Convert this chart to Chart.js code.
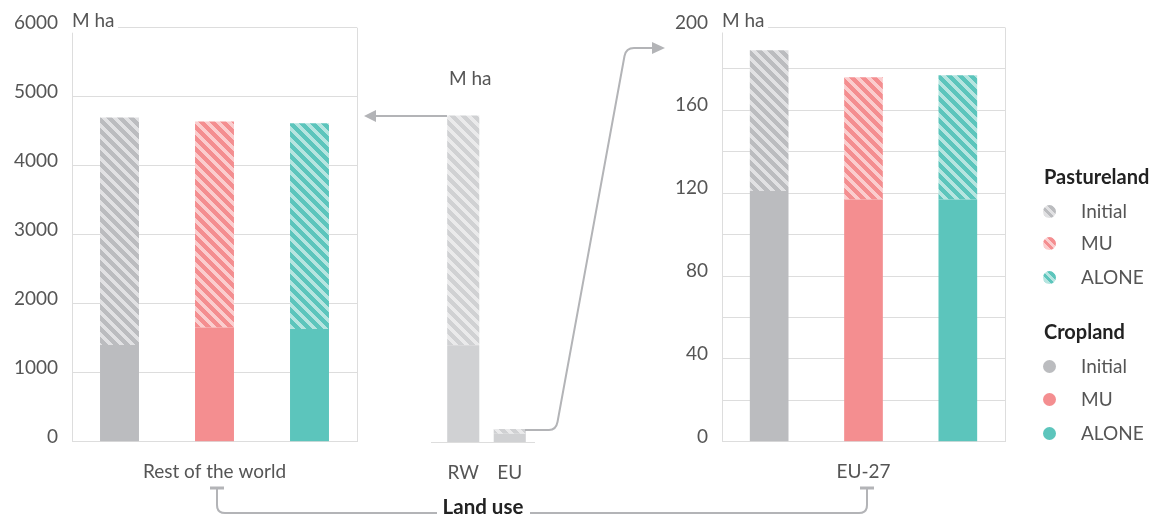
<!DOCTYPE html>
<html>
<head>
<meta charset="utf-8">
<script src="https://cdn.jsdelivr.net/npm/chart.js@4"></script>
<style>
  body { margin: 0; background: #fff; font-family: Lato, sans-serif; }
  #wrap { position: relative; width: 1157px; height: 518px; overflow: hidden; }
  canvas { position: absolute; top: 0; }
  #arrows { position: absolute; left: 0; top: 0; }
  .lg { position: absolute; font-size: 19px; color: #555; line-height: 22px; }
  .lg.head { font-weight: bold; color: #222; font-size: 20px; }
  .dot { position: absolute; width: 13px; height: 13px; border-radius: 50%; }
</style>
</head>
<body>
<div id="wrap">
  <canvas id="chart-rw" width="380" height="518" style="left:0"></canvas>
  <canvas id="chart-small" width="150" height="518" style="left:400px"></canvas>
  <canvas id="chart-eu" width="380" height="518" style="left:640px"></canvas>
  <svg id="arrows" width="1157" height="518">
    <g fill="none" stroke="#b3b4b7" stroke-width="2">
      <path d="M447,116 L374,116"/>
      <path d="M525,430 L549,430 Q556,430 557.5,422 L624.5,56 Q626,48 634,48 L653,48"/>
      <path d="M217,488 L217,505 Q217,513 225,513 L437,513"/>
      <path d="M530,513 L859,513 Q867,513 867,505 L867,488"/>
    </g>
    <g fill="#b3b4b7">
      <polygon points="364,116 376,110 376,122"/>
      <polygon points="665,48 652,42 652,54"/>
      <rect x="210" y="486.5" width="14" height="3"/>
      <rect x="860" y="486.5" width="14" height="3"/>
    </g>
    <text x="483" y="514" text-anchor="middle" font-family="Lato, sans-serif" font-weight="bold" font-size="20.5" fill="#222">Land use</text>
  </svg>
  <div class="lg head" style="left:1044px;top:165px">Pastureland</div>
  <div class="dot" id="d-p0" style="left:1043px;top:205px"></div>
  <div class="lg" style="left:1081px;top:200px">Initial</div>
  <div class="dot" id="d-p1" style="left:1043px;top:237px"></div>
  <div class="lg" style="left:1081px;top:232px">MU</div>
  <div class="dot" id="d-p2" style="left:1043px;top:271px"></div>
  <div class="lg" style="left:1081px;top:266px">ALONE</div>
  <div class="lg head" style="left:1044px;top:320px">Cropland</div>
  <div class="dot" style="left:1043px;top:360px;background:#bbbcbf"></div>
  <div class="lg" style="left:1081px;top:355px">Initial</div>
  <div class="dot" style="left:1043px;top:393px;background:#f48e90"></div>
  <div class="lg" style="left:1081px;top:388px">MU</div>
  <div class="dot" style="left:1043px;top:427px;background:#5cc5bc"></div>
  <div class="lg" style="left:1081px;top:422px">ALONE</div>
</div>
<script>
// data (M ha)
const scenarios = ['Initial', 'MU', 'ALONE'];
const rwCropland = [1400, 1655, 1635];
const rwPasture = [3300, 2985, 2980];
const euCropland = [121, 117, 117];
const euPasture = [68, 59, 60];
const overviewLabels = ['RW', 'EU'];
const overviewCropland = [1400, 121];
const overviewPasture = [3330, 68];
const rwMax = 6000, rwStep = 1000;
const euMax = 200, euStep = 20, euLabelStep = 40;

const solid = ['#bbbcbf', '#f48e90', '#5cc5bc'];
const stripeLight = ['#e1e1e3', '#fbcdce', '#b6e5e0'];

function hatch(dark, light) {
  const s = 11;
  const c = document.createElement('canvas');
  c.width = s; c.height = s;
  const g = c.getContext('2d');
  g.fillStyle = light;
  g.fillRect(0, 0, s, s);
  g.fillStyle = dark;
  for (let x = 0; x < s; x++) {
    for (let y = 0; y < s; y++) {
      if ((((x - y) % s) + s) % s < s / 2) g.fillRect(x, y, 1, 1);
    }
  }
  return g.createPattern(c, 'repeat');
}
const hatched = solid.map((c, i) => hatch(c, stripeLight[i]));

// legend dots for hatched series
solid.forEach((c, i) => {
  document.getElementById('d-p' + i).style.background =
    'repeating-linear-gradient(45deg,' + c + ' 0 3px,' + stripeLight[i] + ' 3px 6px)';
});

Chart.defaults.font.family = 'Lato, sans-serif';
Chart.defaults.font.size = 19;
Chart.defaults.color = '#555';

const gridColor = '#dddddd';

// draws "M ha" over the top-left corner and the right border
function frame(unitX) {
  return {
    id: 'frame',
    afterDraw(chart) {
      const { ctx, chartArea: a } = chart;
      ctx.save();
      ctx.strokeStyle = gridColor;
      ctx.lineWidth = 1;
      ctx.beginPath();
      ctx.moveTo(a.right + 0.5, a.top);
      ctx.lineTo(a.right + 0.5, a.bottom);
      ctx.stroke();
      ctx.fillStyle = '#fff';
      ctx.fillRect(a.left - 4, a.top - 22, 50, 27);
      ctx.fillStyle = '#555';
      ctx.font = '19px Lato, sans-serif';
      ctx.textBaseline = 'middle';
      ctx.textAlign = 'left';
      ctx.fillText('M ha', unitX, a.top - 7);
      ctx.restore();
    }
  };
}

function fixBox(w) {
  return function (scale) { scale.width = w; };
}

function panel(id, crop, pasture, max, step, yWidth, pad, title, tickCb) {
  new Chart(document.getElementById(id), {
    type: 'bar',
    data: {
      labels: scenarios,
      datasets: [
        { label: 'Cropland', data: crop, backgroundColor: solid, barPercentage: 0.41, categoryPercentage: 1 },
        { label: 'Pastureland', data: pasture, backgroundColor: hatched, barPercentage: 0.41, categoryPercentage: 1 }
      ]
    },
    options: {
      responsive: false,
      animation: false,
      layout: { padding: pad },
      plugins: { legend: { display: false }, tooltip: { enabled: false } },
      scales: {
        x: {
          stacked: true,
          grid: { display: false },
          border: { color: gridColor },
          ticks: { display: false },
          title: { display: true, text: title, color: '#555', font: { size: 19 }, padding: { top: 0, bottom: 34.5 } },
          afterFit(scale) { scale.height = 76.3; }
        },
        y: {
          stacked: true,
          min: 0, max: max,
          grid: { color: gridColor, drawTicks: false },
          border: { color: gridColor },
          ticks: { stepSize: step, padding: 14, labelOffset: -5, color: '#555', callback: tickCb },
          afterFit: fixBox(yWidth)
        }
      }
    },
    plugins: [frame(yWidth + 0)]
  });
}

panel('chart-rw', rwCropland, rwPasture, rwMax, rwStep, 72,
  { top: 27.7, right: 23, left: 0, bottom: 0 }, 'Rest of the world', v => v);

panel('chart-eu', euCropland, euPasture, euMax, euStep, 82,
  { top: 27.5, right: 15, left: 0, bottom: 0 }, 'EU-27', v => (v % euLabelStep === 0 ? v : ''));

// small overview panel with the same scale as Rest of the world
new Chart(document.getElementById('chart-small'), {
  type: 'bar',
  data: {
    labels: overviewLabels,
    datasets: [
      { data: overviewCropland, backgroundColor: '#d0d1d3', barPercentage: 0.69, categoryPercentage: 1 },
      { data: overviewPasture, backgroundColor: hatch('#d0d1d3', '#eaeaeb'), barPercentage: 0.69, categoryPercentage: 1 }
    ]
  },
  options: {
    responsive: false,
    animation: false,
    layout: { padding: { top: 27.7, left: 40, right: 17, bottom: 0 } },
    plugins: { legend: { display: false }, tooltip: { enabled: false } },
    scales: {
      x: {
        stacked: true,
        grid: { display: false, drawTicks: false },
        border: { display: false },
        ticks: { padding: 19, color: '#555' },
        afterFit(scale) { scale.height = 76; }
      },
      y: { stacked: true, display: false, min: 0, max: rwMax }
    }
  },
  plugins: [{
    id: 'base',
    afterDraw(chart) {
      const { ctx, chartArea: a } = chart;
      ctx.save();
      ctx.strokeStyle = gridColor;
      ctx.lineWidth = 1;
      ctx.beginPath();
      ctx.moveTo(a.left - 9, a.bottom + 0.5);
      ctx.lineTo(a.right + 2, a.bottom + 0.5);
      ctx.stroke();
      ctx.fillStyle = '#555';
      ctx.font = '19px Lato, sans-serif';
      ctx.textAlign = 'left';
      ctx.textBaseline = 'middle';
      ctx.fillText('M ha', a.left + 9, 79);
      ctx.restore();
    }
  }]
});
</script>
</body>
</html>
